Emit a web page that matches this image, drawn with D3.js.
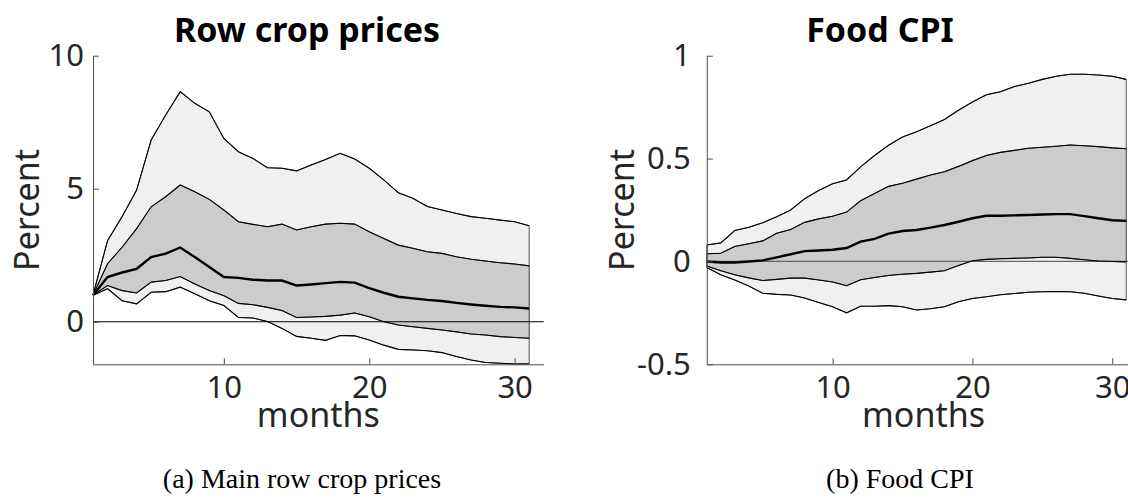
<!DOCTYPE html>
<html>
<head>
<meta charset="utf-8">
<script src="https://cdn.jsdelivr.net/npm/d3@7"></script>
<style>
  body { margin: 0; background: #fff; }
  text { font-family: "Noto Sans", "Open Sans", sans-serif; }
</style>
</head>
<body>
<script>
// months 1..31
var months = d3.range(1, 32);

// Row crop prices: median and 68% / 90% bands
var cropMedian = [1.0, 1.68, 1.85, 1.99, 2.43, 2.56, 2.79, 2.43, 2.06, 1.68, 1.65, 1.58, 1.55, 1.55, 1.36, 1.4,
  1.45, 1.5, 1.47, 1.26, 1.09, 0.94, 0.88, 0.82, 0.78, 0.71, 0.65, 0.6, 0.56, 0.54, 0.5];
var cropHi68 = [1.0, 2.18, 2.8, 3.5, 4.32, 4.7, 5.14, 4.89, 4.6, 4.2, 3.76, 3.66, 3.57, 3.67, 3.45, 3.57,
  3.67, 3.7, 3.67, 3.38, 3.13, 2.88, 2.76, 2.63, 2.57, 2.44, 2.35, 2.28, 2.22, 2.17, 2.1];
var cropLo68 = [1.0, 1.36, 1.17, 1.08, 1.49, 1.55, 1.7, 1.42, 1.17, 0.98, 0.69, 0.64, 0.54, 0.42, 0.16, 0.18,
  0.2, 0.25, 0.33, 0.19, 0.0, -0.12, -0.19, -0.25, -0.31, -0.38, -0.46, -0.5, -0.56, -0.59, -0.62];
var cropHi90 = [1.0, 3.05, 3.95, 4.95, 6.83, 7.77, 8.65, 8.21, 7.89, 6.89, 6.39, 6.14, 5.79, 5.77, 5.67, 5.89,
  6.1, 6.33, 6.12, 5.77, 5.33, 4.85, 4.64, 4.33, 4.2, 4.07, 3.95, 3.89, 3.82, 3.76, 3.61];
var cropLo90 = [1.0, 1.24, 0.79, 0.67, 1.11, 1.13, 1.3, 1.05, 0.79, 0.61, 0.16, 0.14, 0.01, -0.25, -0.55, -0.62,
  -0.7, -0.52, -0.53, -0.69, -0.88, -1.04, -1.06, -1.09, -1.16, -1.31, -1.44, -1.53, -1.56, -1.59, -1.58];

// Food CPI
var cpiMedian = [0.0, -0.005, -0.005, 0.0, 0.005, 0.02, 0.035, 0.05, 0.053, 0.057, 0.065, 0.096, 0.11, 0.135,
  0.148, 0.153, 0.164, 0.177, 0.193, 0.21, 0.222, 0.222, 0.224, 0.226, 0.228, 0.23, 0.23, 0.22, 0.21, 0.2, 0.197];
var cpiHi68 = [0.037, 0.04, 0.073, 0.086, 0.1, 0.137, 0.155, 0.19, 0.207, 0.22, 0.24, 0.295, 0.33, 0.365, 0.38,
  0.4, 0.42, 0.436, 0.462, 0.49, 0.515, 0.53, 0.54, 0.55, 0.555, 0.56, 0.566, 0.562, 0.558, 0.552, 0.548];
var cpiLo68 = [-0.022, -0.045, -0.065, -0.08, -0.093, -0.087, -0.081, -0.081, -0.09, -0.1, -0.118, -0.089,
  -0.078, -0.068, -0.062, -0.058, -0.052, -0.045, -0.02, 0.003, 0.01, 0.013, 0.015, 0.017, 0.02, 0.02, 0.015,
  0.008, 0.002, 0.0, -0.002];
var cpiHi90 = [0.08, 0.09, 0.15, 0.166, 0.188, 0.217, 0.25, 0.305, 0.345, 0.378, 0.396, 0.46, 0.515, 0.565,
  0.605, 0.63, 0.66, 0.69, 0.735, 0.775, 0.81, 0.825, 0.85, 0.866, 0.885, 0.9, 0.91, 0.91, 0.906, 0.9, 0.885];
var cpiLo90 = [-0.03, -0.065, -0.09, -0.12, -0.155, -0.16, -0.163, -0.178, -0.2, -0.22, -0.25, -0.218, -0.218,
  -0.215, -0.22, -0.236, -0.23, -0.22, -0.196, -0.18, -0.172, -0.162, -0.156, -0.15, -0.147, -0.146, -0.147,
  -0.155, -0.168, -0.18, -0.187];

var xTicks = [10, 20, 30];
var cropTicks = [0, 5, 10];
var cpiTicks = [-0.5, 0, 0.5, 1];

var svg = d3.select("body").append("svg")
  .attr("width", 1128)
  .attr("height", 499);

svg.append("rect").attr("width", 1128).attr("height", 499).attr("fill", "#fff");

function drawPanel(p) {
  var x = d3.scaleLinear().domain([1, 32]).range([p.left, p.right]);
  var y = d3.scaleLinear().domain(p.yDomain).range([364.3, 55.7]);
  var g = svg.append("g");

  var band = function(lo, hi) {
    return d3.area()
      .x(function(d, i) { return x(months[i]); })
      .y0(function(d, i) { return y(lo[i]); })
      .y1(function(d, i) { return y(hi[i]); })(months);
  };
  var line = function(vals) {
    return d3.line()
      .x(function(d, i) { return x(months[i]); })
      .y(function(d) { return y(d); })(vals);
  };

  g.append("path").attr("d", band(p.lo90, p.hi90))
    .attr("fill", "#f0f0f0").attr("stroke", "#555").attr("stroke-width", 1);
  g.append("path").attr("d", band(p.lo68, p.hi68))
    .attr("fill", "#cccccc").attr("stroke", "#555").attr("stroke-width", 1);

  // zero line
  g.append("line")
    .attr("x1", x(1)).attr("x2", x(32))
    .attr("y1", y(0)).attr("y2", y(0))
    .attr("stroke", p.zeroColor).attr("stroke-width", 1.2);

  [p.hi90, p.lo90, p.hi68, p.lo68].forEach(function(s) {
    g.append("path").attr("d", line(s))
      .attr("fill", "none").attr("stroke", "#000").attr("stroke-width", 1.1);
  });
  g.append("path").attr("d", line(p.median))
    .attr("fill", "none").attr("stroke", "#000").attr("stroke-width", 2.4);

  // axes (ticks point inward like matlab)
  var ax = g.append("g")
    .attr("transform", "translate(0," + 364.3 + ")")
    .call(d3.axisBottom(x).tickValues(xTicks).tickSizeInner(-6).tickSizeOuter(0).tickPadding(12));
  var ay = g.append("g")
    .attr("transform", "translate(" + p.left + ",0)")
    .call(d3.axisLeft(y).tickValues(p.yTicks).tickFormat(function(d) { return String(d); })
      .tickSizeInner(-6).tickSizeOuter(0).tickPadding(p.yPad));
  [ax, ay].forEach(function(a) {
    a.select(".domain").attr("stroke", "#4d4d4d");
    a.selectAll(".tick line").attr("stroke", "#4d4d4d");
    a.selectAll("text").attr("font-size", 31).attr("fill", "#262626")
      .style("font-family", "'Noto Sans', sans-serif");
  });

  g.append("text")
    .attr("x", p.titleX).attr("y", 42)
    .attr("text-anchor", "middle")
    .attr("font-size", 34).attr("font-weight", "bold")
    .text(p.title);

  g.append("text")
    .attr("x", (p.left + p.right) / 2).attr("y", 427)
    .attr("text-anchor", "middle")
    .attr("font-size", 34).attr("fill", "#262626")
    .text("months");

  g.append("text")
    .attr("transform", "translate(" + p.ylabX + ",210) rotate(-90)")
    .attr("text-anchor", "middle")
    .attr("font-size", 34).attr("fill", "#262626")
    .text("Percent");

  svg.append("text")
    .attr("x", p.capX).attr("y", 488)
    .attr("text-anchor", "middle")
    .attr("font-size", 28)
    .style("font-family", "'Liberation Serif', 'Times New Roman', serif")
    .text(p.caption);
}

drawPanel({
  left: 93, right: 543.7, yDomain: [-1.6, 10], yTicks: cropTicks, yPad: 9,
  median: cropMedian, hi68: cropHi68, lo68: cropLo68, hi90: cropHi90, lo90: cropLo90,
  zeroColor: "#000", title: "Row crop prices", titleX: 307, ylabX: 39,
  caption: "(a) Main row crop prices", capX: 302
});

drawPanel({
  left: 706.8, right: 1140.2, yDomain: [-0.5, 1], yTicks: cpiTicks, yPad: 16,
  median: cpiMedian, hi68: cpiHi68, lo68: cpiLo68, hi90: cpiHi90, lo90: cpiLo90,
  zeroColor: "#666", title: "Food CPI", titleX: 880, ylabX: 634,
  caption: "(b) Food CPI", capX: 900
});
</script>
</body>
</html>
